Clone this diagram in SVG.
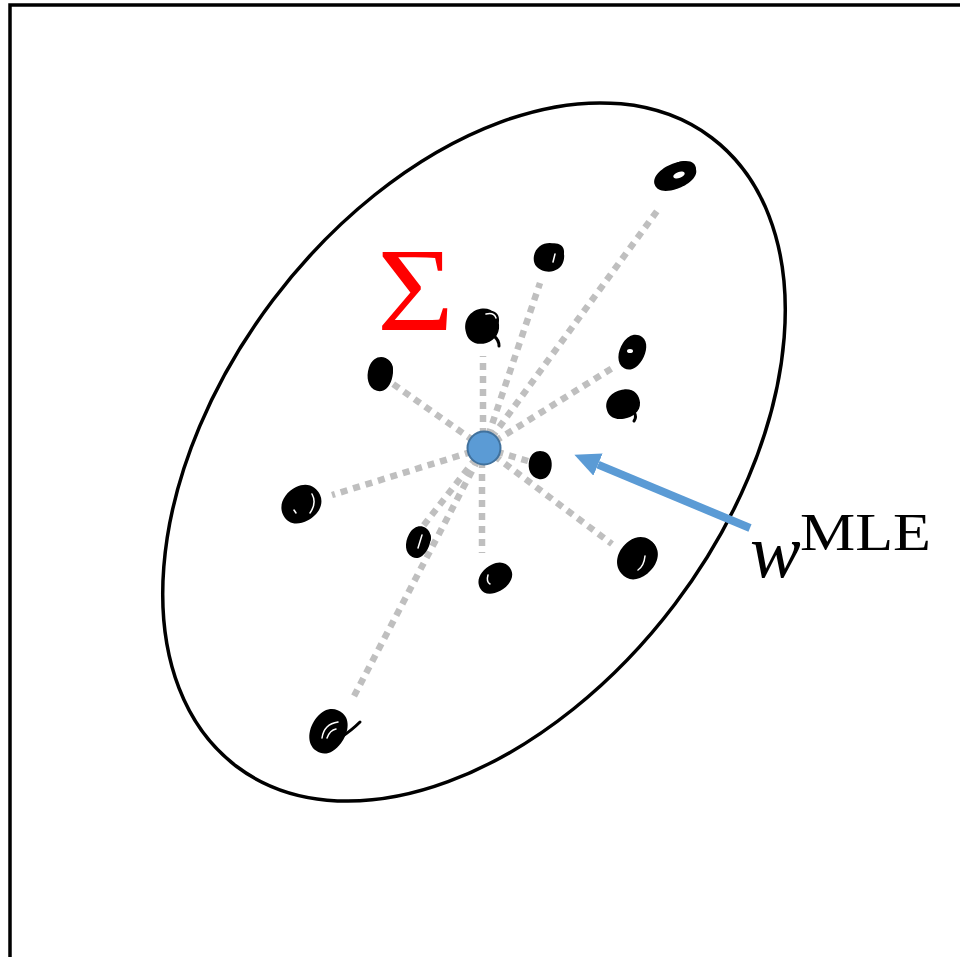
<svg xmlns="http://www.w3.org/2000/svg" width="960" height="957" viewBox="0 0 960 957">
<style>
.frame{fill:none;stroke:#000;stroke-width:3.5}
.ell{fill:none;stroke:#000;stroke-width:3.5}
.dot{stroke:#bfbfbf;stroke-width:6.5;stroke-dasharray:7 6;fill:none}
.blob{fill:#000}
.hl{fill:none;stroke:#fff;stroke-width:1.5;stroke-linecap:round}
.ink{fill:none;stroke:#000;stroke-width:3;stroke-linecap:round}
.center{fill:#5b9bd5;stroke:#41719c;stroke-width:2}
.arrow{stroke:#5b9bd5;stroke-width:8;fill:none}
.math{font-family:"Liberation Serif","DejaVu Serif",serif}
</style>
<defs>
<path id="b" d="M-1,0.1 C-1,-0.6 -0.4,-1 0.2,-0.95 C0.8,-0.9 1.05,-0.4 1,0.1 C0.95,0.7 0.4,1 -0.1,0.98 C-0.7,0.95 -1,0.6 -1,0.1 Z"/>
<marker id="ah" markerWidth="3.2" markerHeight="3" refX="0" refY="1.5" orient="auto" markerUnits="strokeWidth">
<path d="M0,0 L3.2,1.5 L0,3 Z" fill="#5b9bd5"/>
</marker>
</defs>
<rect width="960" height="957" fill="#fff"/>
<path class="frame" d="M10,960 V5 H962"/>
<g id="ellipse">
<ellipse class="ell" cx="474" cy="452" rx="394" ry="252" transform="rotate(-52.9 474 452)"/>
</g>
<g id="connectors">
<line class="dot" x1="484" y1="448" x2="660" y2="207"/>
<line class="dot" x1="484" y1="448" x2="540" y2="283"/>
<line class="dot" x1="483" y1="448" x2="483" y2="356"/>
<line class="dot" x1="484" y1="448" x2="393" y2="384"/>
<line class="dot" x1="484" y1="448" x2="614" y2="367"/>
<line class="dot" x1="484" y1="448" x2="528" y2="461"/>
<line class="dot" x1="484" y1="448" x2="332" y2="495"/>
<line class="dot" x1="484" y1="448" x2="420" y2="530"/>
<line class="dot" x1="482" y1="448" x2="482" y2="553"/>
<line class="dot" x1="484" y1="448" x2="612" y2="544"/>
<line class="dot" x1="484" y1="448" x2="352" y2="700"/>
</g>
<g id="p1"><use href="#b" class="blob" transform="translate(675 176) rotate(-20) scale(22 13)"/><use href="#b" class="blob" transform="translate(682 170) rotate(-10) scale(14 9)"/><ellipse cx="679" cy="175" rx="6" ry="3" fill="#fff" transform="rotate(-20 679 175)"/></g>
<g id="p2"><use href="#b" class="blob" transform="translate(549 257) rotate(10) scale(15 15)"/><use href="#b" class="blob" transform="translate(554 252) scale(10 9)"/><path class="hl" d="M555,254 L553,262"/></g>
<g id="p3"><use href="#b" class="blob" transform="translate(482 326) rotate(-10) scale(17 18)"/><use href="#b" class="blob" transform="translate(488 320) scale(11 10)"/><path class="ink" d="M494,336 Q499,340 499,346"/><path class="hl" d="M486,314 Q494,312 496,318"/></g>
<g id="p4"><use href="#b" class="blob" transform="translate(380 374) rotate(-75) scale(17 13)"/><use href="#b" class="blob" transform="translate(385 370) scale(8 10)"/></g>
<g id="p5"><use href="#b" class="blob" transform="translate(632 352) rotate(-60) scale(18 13)"/><use href="#b" class="blob" transform="translate(634 346) scale(9 8)"/><ellipse cx="630" cy="351" rx="3" ry="2" fill="#fff"/></g>
<g id="p6"><use href="#b" class="blob" transform="translate(623 404) rotate(-10) scale(17 15)"/><use href="#b" class="blob" transform="translate(627 399) scale(10 9)"/><path class="ink" d="M634,412 Q637,417 634,421"/></g>
<g id="p7"><use href="#b" class="blob" transform="translate(540 465) rotate(-80) scale(14 12)"/></g>
<g id="p8"><use href="#b" class="blob" transform="translate(301 504) rotate(-30) scale(21 18)"/><use href="#b" class="blob" transform="translate(306 498) scale(12 10)"/><path class="hl" d="M312,494 Q317,503 310,513"/><path class="hl" d="M294,510 L296,513"/></g>
<g id="p9"><use href="#b" class="blob" transform="translate(418 542) rotate(-65) scale(16 12)"/><use href="#b" class="blob" transform="translate(424 538) scale(7 7)"/><path class="hl" d="M422,535 L418,548"/></g>
<g id="p10"><use href="#b" class="blob" transform="translate(495 578) rotate(-30) scale(18 14)"/><use href="#b" class="blob" transform="translate(500 573) scale(11 8)"/><path class="hl" d="M488,575 Q486,582 490,584"/></g>
<g id="p11"><use href="#b" class="blob" transform="translate(637 558) rotate(-40) scale(22 19)"/><use href="#b" class="blob" transform="translate(644 550) scale(12 10)"/><path class="hl" d="M645,556 Q644,566 638,570"/></g>
<g id="p12"><use href="#b" class="blob" transform="translate(328 731) rotate(-55) scale(23 18)"/><path class="ink" d="M340,738 Q352,730 360,722"/><path class="hl" d="M322,738 Q324,724 338,722"/><path class="hl" d="M327,738 Q330,730 336,729"/></g>
<g id="w-mle">
<circle class="center" cx="484" cy="448" r="16.5"/>
</g>
<g id="arrow">
<line class="arrow" x1="750" y1="528" x2="598" y2="464.6" marker-end="url(#ah)"/>
</g>
<g id="labels">
<text class="math" x="0" y="0" font-size="118" fill="#ff0000" transform="translate(377 330) scale(1.12 1)">Σ</text>
<text class="math" x="750" y="577" font-size="76" font-style="italic">w</text>
<text class="math" x="800" y="550" font-size="53" textLength="131" lengthAdjust="spacingAndGlyphs">MLE</text>
</g>
</svg>
